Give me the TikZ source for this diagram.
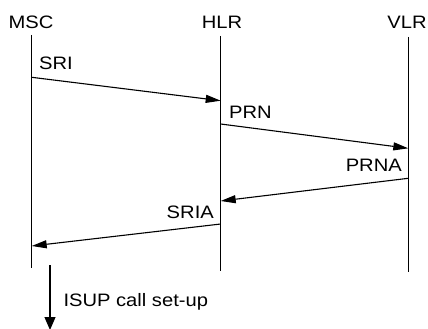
\documentclass[tikz,border=0pt]{standalone}
\usepackage{fontspec}
\setmainfont{Liberation Sans}[FakeStretch=1.12]
\usetikzlibrary{arrows.meta}
\begin{document}
\begin{tikzpicture}[x=1pt,y=-1pt,
  lbl/.style={font=\fontsize{18}{21}\selectfont, inner sep=0pt},
  life/.style={line width=1pt},
  msg/.style={line width=1.1pt, -{Triangle[length=15pt,width=8pt]}},
  flow/.style={line width=1.1pt, -{Triangle[length=13pt,width=11pt]}}]
\useasboundingbox (0,0) rectangle (428,329);
% entities
\node[lbl, anchor=base] (msc) at (31,28.5) {MSC};
\node[lbl, anchor=base] (hlr) at (222,28.5) {HLR};
\node[lbl, anchor=base] (vlr) at (407,28.5) {VLR};
% lifelines
\coordinate (mscT) at (31.7,35);  \coordinate (mscB) at (31.7,268);
\coordinate (hlrT) at (220.7,36); \coordinate (hlrB) at (220.7,271);
\coordinate (vlrT) at (408.3,37); \coordinate (vlrB) at (408.3,272);
\draw[life] (mscT) -- (mscB);
\draw[life] (hlrT) -- (hlrB);
\draw[life] (vlrT) -- (vlrB);
% message end points
\coordinate (sriA) at (31.7,77.3);   \coordinate (sriB) at (220.7,100.7);
\coordinate (prnA) at (220.7,124);   \coordinate (prnB) at (408.3,148.3);
\coordinate (prnaA) at (408.3,178.3); \coordinate (prnaB) at (220.7,201);
\coordinate (sriaA) at (220.7,224);  \coordinate (sriaB) at (31.7,246);
\draw[msg] (sriA) -- (sriB);
\draw[msg] (prnA) -- (prnB);
\draw[msg] (prnaA) -- (prnaB);
\draw[msg] (sriaA) -- (sriaB);
% labels
\node[lbl, anchor=base west] (sri) at (39,70) {SRI};
\node[lbl, anchor=base west] (prn) at (229,118) {PRN};
\node[lbl, anchor=base east] (prna) at (402,171.7) {PRNA};
\node[lbl, anchor=base east] (sria) at (214,218) {SRIA};
% ISUP
\coordinate (isT) at (50,265); \coordinate (isB) at (50,330);
\draw[flow] (isT) -- (isB);
\node[lbl, anchor=base west] (isup) at (63.3,306.7) {ISUP call set-up};
\end{tikzpicture}
\end{document}
